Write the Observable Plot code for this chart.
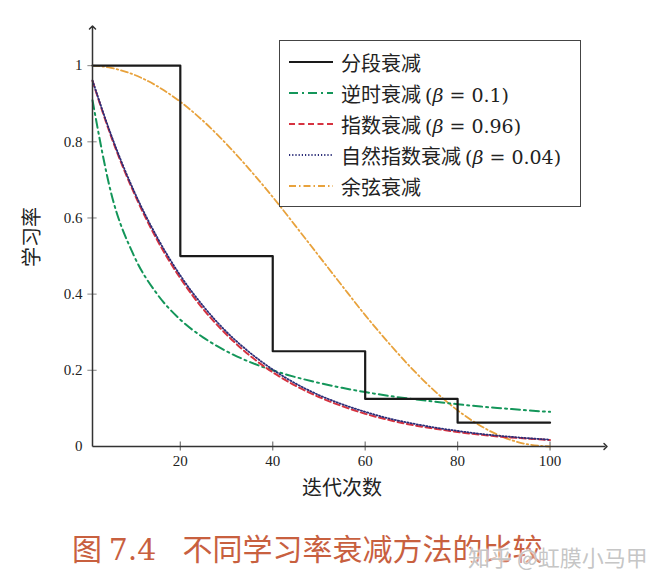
<!DOCTYPE html>
<html>
<head>
<meta charset="utf-8">
<script src="https://cdn.jsdelivr.net/npm/d3@7"></script>
<script src="https://cdn.jsdelivr.net/npm/@observablehq/plot@0.6"></script>
<style>
  html, body { margin: 0; padding: 0; background: #fff; }
  #wrap { position: relative; width: 650px; height: 579px; overflow: hidden; }
  #legend { position: absolute; left: 279px; top: 40px; width: 302px; height: 167px;
    border: 1.3px solid #444; background: #fff; box-sizing: border-box;
    font-family: "Noto Sans CJK SC", "DejaVu Serif", serif; font-size: 20px; color: #222; }
  .row { position: absolute; left: 8px; height: 30px; display: flex; align-items: center; white-space: nowrap; }
  .row svg { margin-right: 7px; }
  .row .math { font-family: "DejaVu Serif", "Liberation Serif", serif; font-size: 19px; margin-left: 4px; }
  #caption { position: absolute; left: 72px; top: 525px; font-family: "Noto Sans CJK SC", sans-serif;
    font-size: 30px; color: #c8603f; white-space: pre; }
  #caption .num { font-family: "DejaVu Serif", serif; margin-right: 26px; }
  #watermark { position: absolute; left: 468px; top: 540px; font-family: "Noto Sans CJK SC", sans-serif;
    font-size: 22px; color: rgba(190,190,190,0.9); white-space: pre; text-shadow: 0 0 2px #fff, 0 0 3px #fff; }
</style>
</head>
<body>
<div id="wrap">
  <div id="chart"></div>
  <div id="legend"></div>
  <div id="caption">图 <span class="num">7.4</span>不同学习率衰减方法的比较</div>
  <div id="watermark">知乎 @虹膜小马甲</div>
</div>
<script>
// ---- data ----
const iterations = [1, 5, 10, 15, 20, 25, 30, 35, 40, 45, 50, 55, 60, 65, 70, 75, 80, 85, 90, 95, 100];
const stepIterations = [1, 20, 40, 60, 80, 100];
const piecewiseValues = [1, 0.5, 0.25, 0.125, 0.0625, 0.0625];
const inverseTimeValues = [0.909, 0.667, 0.5, 0.4, 0.333, 0.286, 0.25, 0.222, 0.2, 0.182, 0.167, 0.154, 0.143, 0.133, 0.125, 0.118, 0.111, 0.105, 0.1, 0.095, 0.091];
const exponentialValues = [0.96, 0.815, 0.665, 0.542, 0.442, 0.36, 0.294, 0.239, 0.195, 0.159, 0.13, 0.106, 0.086, 0.07, 0.057, 0.047, 0.038, 0.031, 0.025, 0.021, 0.017];
const naturalExpValues = [0.961, 0.819, 0.67, 0.549, 0.449, 0.368, 0.301, 0.247, 0.202, 0.165, 0.135, 0.111, 0.091, 0.074, 0.061, 0.05, 0.041, 0.033, 0.027, 0.022, 0.018];
const cosineValues = [1.0, 0.994, 0.976, 0.946, 0.905, 0.854, 0.794, 0.727, 0.655, 0.578, 0.5, 0.422, 0.345, 0.273, 0.206, 0.146, 0.095, 0.054, 0.024, 0.006, 0];
const xTicks = [20, 40, 60, 80, 100];
const yTicks = [0, 0.2, 0.4, 0.6, 0.8, 1];
const seriesNames = ["分段衰减", "逆时衰减", "指数衰减", "自然指数衰减", "余弦衰减"];
const legendLabels = ["分段衰减", "逆时衰减 (<i>β</i> = 0.1)", "指数衰减 (<i>β</i> = 0.96)", "自然指数衰减 (<i>β</i> = 0.04)", "余弦衰减"];
const xLabel = "迭代次数";
const yLabel = "学习率";

const styles = [
  {stroke: "#1a1a1a", width: 2.2, dash: null},
  {stroke: "#14965a", width: 2, dash: "9,4,2,4"},
  {stroke: "#d63340", width: 2, dash: "6,3.5"},
  {stroke: "#2b2d78", width: 1.8, dash: "1.2,2"},
  {stroke: "#e8a23c", width: 1.8, dash: "7,3,1.5,3"}
];

const toRows = (xs, ys) => xs.map((x, i) => ({x, y: ys[i]}));
const piecewise = toRows(stepIterations, piecewiseValues);
const smoothSeries = [inverseTimeValues, exponentialValues, naturalExpValues, cosineValues].map(v => toRows(iterations, v));

const axisColor = "#333";
const serif = "'Liberation Serif', 'DejaVu Serif', serif";

const lineMark = (data, s, curve) => Plot.line(data, {x: "x", y: "y", stroke: s.stroke, strokeWidth: s.width,
  strokeDasharray: s.dash, curve});

const plot = Plot.plot({
  width: 650,
  height: 512,
  marginLeft: 92,
  marginRight: 45,
  marginTop: 27,
  marginBottom: 66,
  x: {domain: [1, 112], axis: null},
  y: {domain: [0, 1.1], axis: null},
  style: {fontFamily: serif, fontSize: "14px", color: "#222", background: "#fff"},
  marks: [
    // tick marks crossing axes
    Plot.ruleY(yTicks.filter(d => d > 0), {x1: 0, x2: 2, stroke: "#999", strokeWidth: 1.2}),
    Plot.ruleX(xTicks, {y1: -0.012, y2: 0.012, stroke: "#777", strokeWidth: 1.2}),
    // tick labels
    Plot.text(yTicks, {x: 1, y: d => d, text: d => String(d), dx: -10, textAnchor: "end", fontSize: 15, fill: "#222"}),
    Plot.text(xTicks, {x: d => d, y: 0, text: d => String(d), dy: 15, fontSize: 15, fill: "#222"}),
    // axis labels
    Plot.text([xLabel], {x: 55, y: 0, dy: 42, text: d => d, fontSize: 20, fontFamily: "Noto Sans CJK SC", fill: "#222"}),
    Plot.text([yLabel], {x: 1, y: 0.55, dx: -60, text: d => d, rotate: -90, fontSize: 20, fontFamily: "Noto Sans CJK SC", fill: "#222"}),
    // series
    lineMark(smoothSeries[3], styles[4], "monotone-x"),
    lineMark(smoothSeries[0], styles[1], "monotone-x"),
    lineMark(smoothSeries[1], styles[2], "monotone-x"),
    lineMark(smoothSeries[2], styles[3], "monotone-x"),
    lineMark(piecewise, styles[0], "step-after"),
    // axes with arrows
    Plot.link([0], {x1: 1, y1: 0, x2: 112, y2: 0, stroke: axisColor, strokeWidth: 1.5, markerEnd: "arrow"}),
    Plot.link([0], {x1: 1, y1: 0, x2: 1, y2: 1.1, stroke: axisColor, strokeWidth: 1.5, markerEnd: "arrow"})
  ]
});
document.getElementById("chart").appendChild(plot);

// legend
const legend = document.getElementById("legend");
legendLabels.forEach((lab, i) => {
  const s = styles[i];
  const row = document.createElement("div");
  row.className = "row";
  row.style.top = (6 + i * 31) + "px";
  row.innerHTML = `<svg width="46" height="10"><line x1="1" y1="5" x2="45" y2="5" stroke="${s.stroke}" stroke-width="${s.width}" ${s.dash ? `stroke-dasharray="${s.dash}"` : ""}/></svg>` +
    `<span>${lab.replace(/ \((.*)\)/, '<span class="math">($1)</span>')}</span>`;
  legend.appendChild(row);
});
</script>
</body>
</html>
